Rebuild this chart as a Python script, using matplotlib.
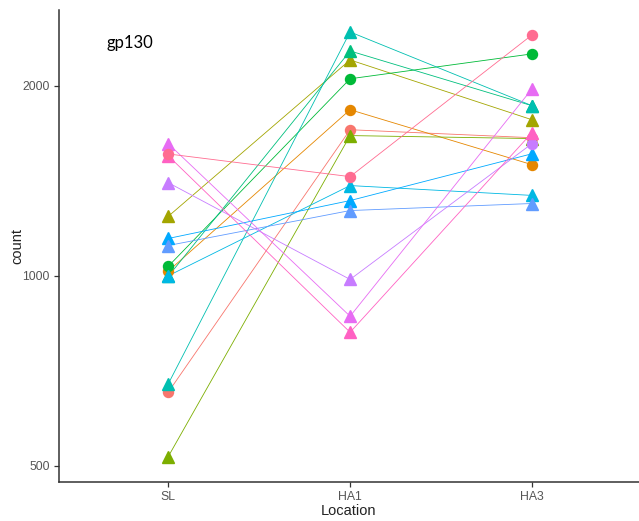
import matplotlib
matplotlib.use('Agg')
import matplotlib.pyplot as plt
from matplotlib.ticker import FixedLocator, NullLocator

# data (one entry per subject)
locations = ['SL', 'HA1', 'HA3']
subject_colors = ['#F8766D', '#E58700', '#A3A500', '#7CAE00', '#00BA38', '#00BF7D', '#00BFB0',
                  '#00B8E3', '#00A9FF', '#619CFF', '#C77CFF', '#E76BF3', '#FF61C3', '#FF6C91']
sl_counts = [654, 1017, 1242, 517, 1035, 998, 674, 1000, 1146, 1117, 1405, 1620, 1550, 1560]
ha1_counts = [1704, 1833, 2198, 1668, 2052, 2271, 2434, 1390, 1316, 1269, 987, 863, 814, 1436]
ha3_counts = [1655, 1500, 1767, 1650, 2247, 1860, 1860, 1341, 1561, 1302, 1620, 1978, 1686, 2408]
sl_shapes = ['o', 'o', '^', '^', 'o', '^', '^', '^', '^', '^', '^', '^', '^', 'o']
ha1_shapes = ['o', 'o', '^', '^', 'o', '^', '^', '^', '^', '^', '^', '^', '^', 'o']
ha3_shapes = ['o', 'o', '^', '^', 'o', '^', '^', '^', '^', '^', 'o', '^', '^', 'o']
y_ticks = [500, 1000, 2000]

fig = plt.figure(figsize=(6.39, 5.21), dpi=100)
ax = fig.add_axes([59 / 639, 39 / 521, 580 / 639, 472 / 521])

xpos = range(len(locations))
# lines first, then points on top (like geom_line + geom_point)
for i, col in enumerate(subject_colors):
    ax.plot(xpos, [sl_counts[i], ha1_counts[i], ha3_counts[i]], color=col, lw=0.6, zorder=2)

for i, col in enumerate(subject_colors):
    vals = [sl_counts[i], ha1_counts[i], ha3_counts[i]]
    shapes = [sl_shapes[i], ha1_shapes[i], ha3_shapes[i]]
    for x, v, m in zip(xpos, vals, shapes):
        ms = 7.2 if m == 'o' else 9
        ax.plot(x, v, marker=m, ms=ms, color=col, mec=col, ls='none', zorder=3)

ax.set_yscale('log')
ax.set_ylim(471.5, 2637)
ax.set_xlim(-0.6, 2.588)
ax.yaxis.set_major_locator(FixedLocator(y_ticks))
ax.yaxis.set_minor_locator(NullLocator())
ax.set_yticks(y_ticks)
ax.set_yticklabels([str(t) for t in y_ticks])
ax.set_xticks(list(xpos))
ax.set_xticklabels(locations)

for s in ['top', 'right']:
    ax.spines[s].set_visible(False)
for s in ['left', 'bottom']:
    ax.spines[s].set_color('#333333')
    ax.spines[s].set_linewidth(1.1)
ax.tick_params(axis='both', length=3.5, width=0.9, color='#333333',
               labelcolor='#555555', labelsize=8.8, pad=3)
for lab in ax.get_xticklabels() + ax.get_yticklabels():
    lab.set_family('Liberation Sans')

ax.set_xlabel('Location', fontsize=10.5, family='Liberation Sans', color='#222222', labelpad=1)
ax.set_ylabel('count', fontsize=10.5, family='Liberation Sans', color='#222222')
ax.yaxis.set_label_coords(-0.060, 0.5)

ax.text(0.082, 0.93, 'gp130', transform=ax.transAxes, fontsize=12, family='Lato',
        ha='left', va='center', color='black')

fig.savefig('out.png', dpi=100)
